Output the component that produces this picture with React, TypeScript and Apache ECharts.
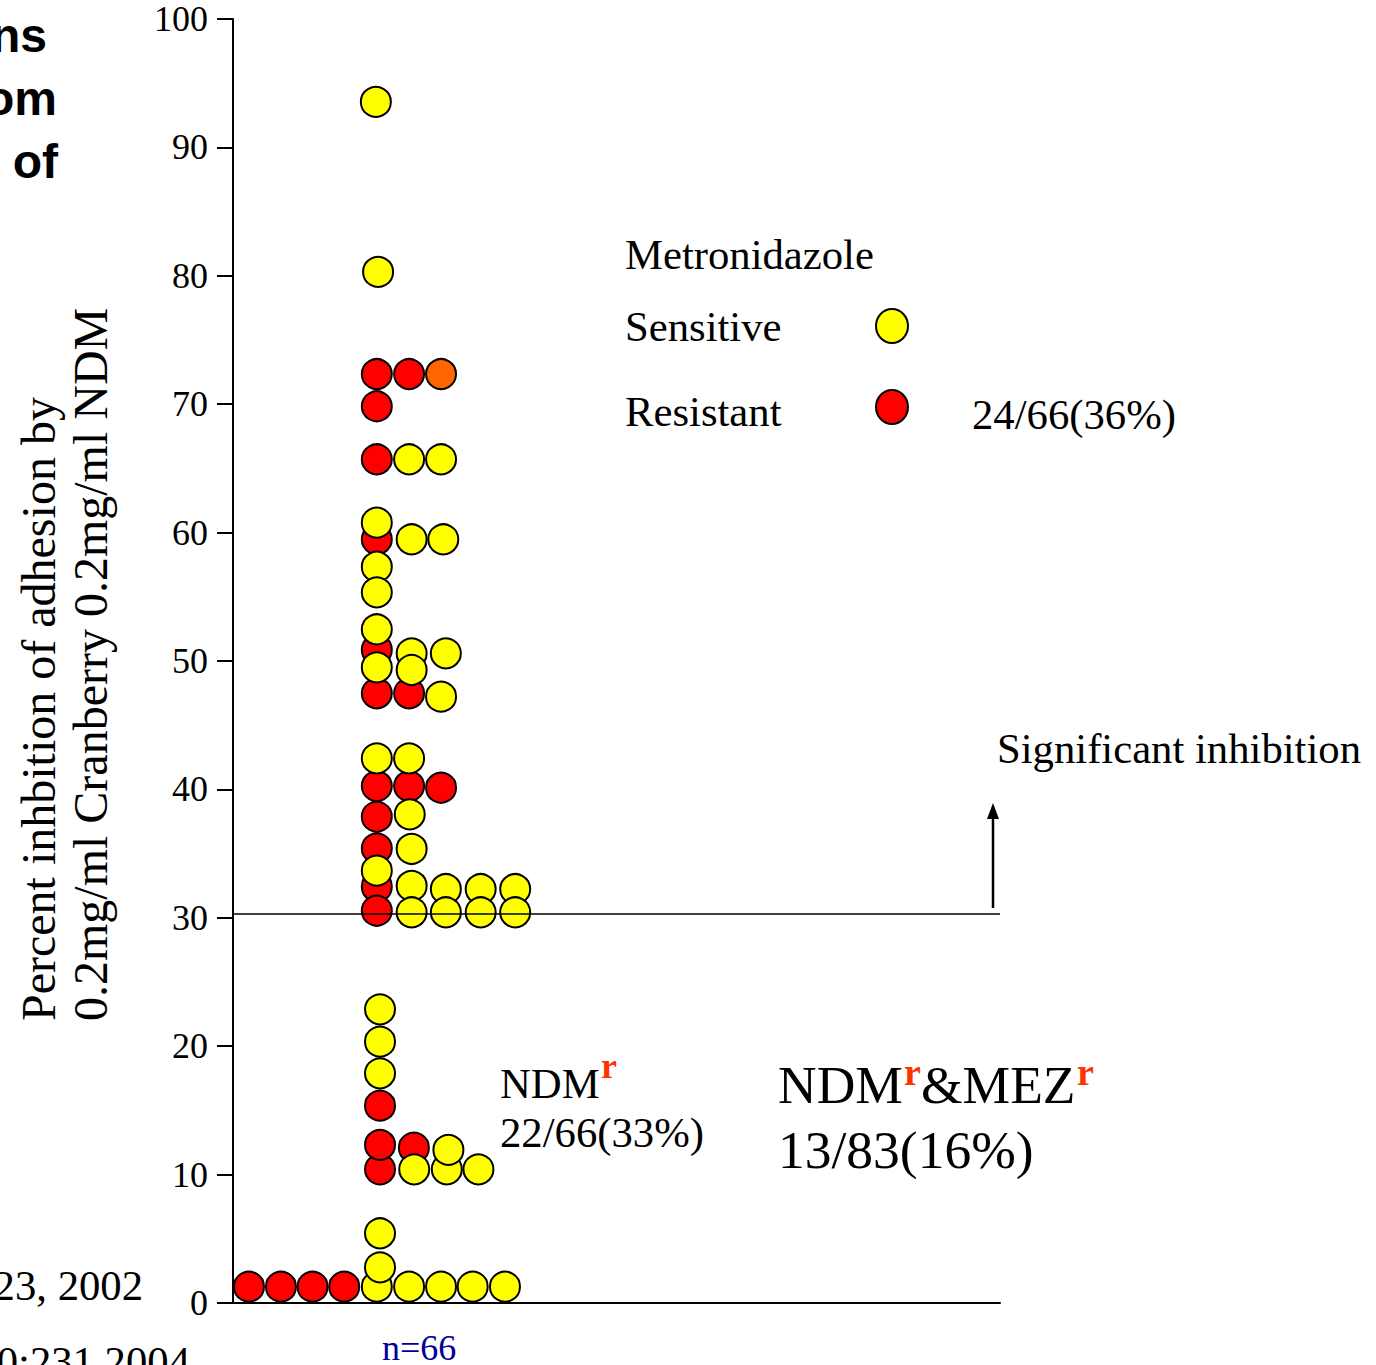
import React, { useEffect, useRef } from "react";
import * as echarts from "echarts";

// Columns are in "dot widths" from the y-axis (x axis 0..24), values are percent inhibition.
const resistantPoints: [number, number][] = [
  [4.5, 72.35], [5.51, 72.35], [4.5, 69.84], [4.5, 65.71], [4.5, 59.48],
  [4.5, 50.86], [4.5, 47.48], [5.51, 47.48], [4.5, 40.26], [5.51, 40.26],
  [6.51, 40.13], [4.5, 37.87], [4.5, 35.41], [4.5, 32.42], [4.5, 30.55],
  [4.6, 15.37], [4.6, 10.41], [4.6, 12.31], [5.66, 12.1],
  [0.5, 1.27], [1.5, 1.27], [2.49, 1.27], [3.48, 1.27],
];
const intermediatePoints: [number, number][] = [[6.51, 72.35]];
const sensitivePoints: [number, number][] = [
  [4.47, 93.54], [4.54, 80.3], [5.51, 65.71], [6.51, 65.71], [4.5, 60.77],
  [5.59, 59.48], [6.58, 59.48], [4.5, 57.34], [4.5, 55.35], [4.5, 52.47],
  [5.59, 50.6], [6.66, 50.6], [4.5, 49.51], [5.59, 49.3], [6.51, 47.22],
  [4.5, 42.42], [5.51, 42.42], [5.53, 38.06], [5.59, 35.36], [4.5, 33.67],
  [5.59, 32.48], [6.66, 32.24], [7.75, 32.24], [8.83, 32.24],
  [5.59, 30.43], [6.66, 30.43], [7.75, 30.43], [8.83, 30.43],
  [4.6, 22.87], [4.6, 20.35], [4.6, 17.89],
  [5.67, 10.41], [6.69, 10.41], [7.68, 10.41], [6.74, 11.92],
  [4.5, 1.27], [5.51, 1.27], [6.51, 1.27], [7.5, 1.27], [8.51, 1.27],
  [4.6, 2.78], [4.6, 5.43],
];
const thresholdValue = 30.3;
const yTickInterval = 10;

const SERIF = "'Liberation Serif', 'Times New Roman', serif";
const SANS = "'Liberation Sans', Arial, sans-serif";

export default function App() {
  const ref = useRef<HTMLDivElement>(null);

  useEffect(() => {
    if (!ref.current) return;
    const chart = echarts.init(ref.current, null, { renderer: "svg" });

    const txt = (
      text: string,
      x: number,
      y: number,
      size: number,
      extra: any = {}
    ) => ({
      type: "text",
      x,
      y,
      rotation: extra.rotation || 0,
      silent: true,
      style: {
        text,
        fontFamily: extra.family || SERIF,
        fontSize: size,
        fontWeight: extra.weight || "normal",
        fill: extra.color || "#000",
        align: extra.align || "left",
        verticalAlign: "middle",
      },
    });

    const dotStyle = (color: string) => ({
      color,
      borderColor: "#000",
      borderWidth: 2,
      opacity: 1,
    });

    const M = 42.7; // medium annotation size
    const L = 53.5; // large annotation size

    chart.setOption({
      animation: false,
      backgroundColor: "#fff",
      grid: { left: 233, right: 376, top: 19, bottom: 62, containLabel: false },
      xAxis: {
        type: "value",
        min: 0,
        max: 24,
        axisLine: { show: true, onZero: false, lineStyle: { color: "#000", width: 2 } },
        axisTick: { show: false },
        axisLabel: { show: false },
        splitLine: { show: false },
      },
      yAxis: {
        type: "value",
        min: 0,
        max: 100,
        interval: yTickInterval,
        axisLine: { show: true, lineStyle: { color: "#000", width: 2 } },
        axisTick: { show: true, inside: false, length: 16, lineStyle: { color: "#000", width: 2 } },
        axisLabel: { color: "#000", fontFamily: SERIF, fontSize: 36, margin: 25 },
        splitLine: { show: false },
      },
      series: [
        {
          name: "Resistant",
          type: "scatter",
          symbol: "circle",
          symbolSize: 30,
          itemStyle: dotStyle("#ff0000"),
          data: resistantPoints,
          markLine: {
            silent: true,
            symbol: ["none", "none"],
            label: { show: false },
            lineStyle: { color: "#000", width: 1.5, type: "solid" },
            data: [{ yAxis: thresholdValue }],
          },
        },
        {
          name: "Intermediate",
          type: "scatter",
          symbol: "circle",
          symbolSize: 30,
          itemStyle: dotStyle("#ff6600"),
          data: intermediatePoints,
        },
        {
          name: "Sensitive",
          type: "scatter",
          symbol: "circle",
          symbolSize: 30,
          itemStyle: dotStyle("#ffff00"),
          data: sensitivePoints,
        },
      ],
      graphic: [
        // clipped slide title fragments (cut off at the left edge, as in the reference)
        txt("ns", 47, 35.4, 48, { family: SANS, weight: "bold", align: "right" }),
        txt("om", 57, 98.4, 48, { family: SANS, weight: "bold", align: "right" }),
        txt("of", 58, 161.4, 48, { family: SANS, weight: "bold", align: "right" }),
        // clipped references
        txt("23, 2002", 143, 1285.8, M, { align: "right" }),
        txt("0:231 2004", 190, 1361, M, { align: "right" }),
        // y axis title (two lines, rotated)
        txt("Percent inhbition of adhesion by", 38.8, 1021, 48, { rotation: Math.PI / 2 }),
        txt("0.2mg/ml Cranberry 0.2mg/ml NDM", 90.8, 1021, 48, { rotation: Math.PI / 2 }),
        // legend
        txt("Metronidazole", 625, 254.8, M),
        txt("Sensitive", 625, 326.8, M),
        txt("Resistant", 625, 411.8, M),
        {
          type: "ellipse",
          silent: true,
          shape: { cx: 892, cy: 326, rx: 16, ry: 17 },
          style: { fill: "#ffff00", stroke: "#000", lineWidth: 2 },
        },
        {
          type: "ellipse",
          silent: true,
          shape: { cx: 892, cy: 407, rx: 16, ry: 17 },
          style: { fill: "#ff0000", stroke: "#000", lineWidth: 2 },
        },
        txt("24/66(36%)", 972, 414.8, M),
        // significance annotation
        txt("Significant inhibition", 997, 748.8, M),
        {
          type: "line",
          silent: true,
          shape: { x1: 993, y1: 908, x2: 993, y2: 816 },
          style: { stroke: "#000", lineWidth: 2.5 },
        },
        {
          type: "polygon",
          silent: true,
          shape: { points: [[993, 803], [987, 819], [999, 819]] },
          style: { fill: "#000" },
        },
        // NDM resistance annotations
        txt("NDM", 500, 1083.8, M),
        txt("r", 601, 1065.9, 36, { weight: "bold", color: "#ff3300" }),
        txt("22/66(33%)", 500, 1132.8, M),
        txt("NDM", 778, 1085, L),
        txt("r", 904, 1072, 38, { weight: "bold", color: "#ff3300" }),
        txt("&MEZ", 921, 1085, L),
        txt("r", 1077, 1072, 38, { weight: "bold", color: "#ff3300" }),
        txt("13/83(16%)", 778, 1150, L),
        // sample size
        txt("n=66", 382, 1347.8, 36, { color: "#000099" }),
      ],
    });

    return () => chart.dispose();
  }, []);

  return (
    <div
      ref={ref}
      style={{ position: "absolute", left: 0, top: 0, width: 1376, height: 1365 }}
    />
  );
}
